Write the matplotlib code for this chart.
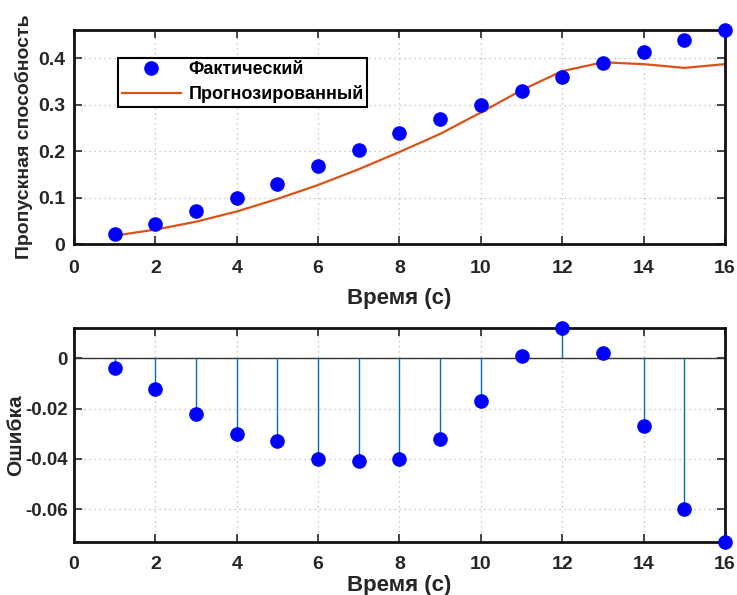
import matplotlib
matplotlib.use("Agg")
import matplotlib.pyplot as plt
import numpy as np

plt.rcParams['font.family'] = ['Liberation Sans', 'DejaVu Sans']
plt.rcParams['font.weight'] = 'bold'

time_s = [1, 2, 3, 4, 5, 6, 7, 8, 9, 10, 11, 12, 13, 14, 15, 16]
actual = [0.022, 0.043, 0.070, 0.100, 0.130, 0.167, 0.202, 0.238, 0.269, 0.300,
          0.330, 0.360, 0.389, 0.414, 0.439, 0.460]
predicted = [0.018, 0.031, 0.048, 0.070, 0.097, 0.127, 0.161, 0.198, 0.237, 0.283,
             0.331, 0.372, 0.391, 0.387, 0.379, 0.387]
error = [p - a for p, a in zip(predicted, actual)]

xticks = [0, 2, 4, 6, 8, 10, 12, 14, 16]
yticks_top = [0, 0.1, 0.2, 0.3, 0.4]
ytick_labels_top = ['0', '0.1', '0.2', '0.3', '0.4']
yticks_bot = [-0.06, -0.04, -0.02, 0]
ytick_labels_bot = ['-0.06', '-0.04', '-0.02', '0']

legend_labels = ['Фактический', 'Прогнозированный']
xlabel = 'Время (с)'
ylabel_top = 'Пропускная способность'
ylabel_bot = 'Ошибка'

TXT = '#262626'
fig = plt.figure(figsize=(7.37, 5.95), dpi=100)
ax1 = fig.add_axes([0.1004, 0.5899, 0.8833, 0.3597])
ax2 = fig.add_axes([0.1004, 0.0896, 0.8833, 0.3587])

def style(ax, xpad, ypad, ysize):
    for s in ax.spines.values():
        s.set_linewidth(2.0)
        s.set_color('#111111')
    ax.tick_params(direction='in', length=5.5, width=1.2, top=True, right=True,
                   colors=TXT)
    ax.tick_params(axis='x', pad=xpad, labelsize=14)
    ax.tick_params(axis='y', pad=ypad, labelsize=ysize)
    for lab in ax.get_xticklabels() + ax.get_yticklabels():
        lab.set_fontweight('bold')
    ax.grid(True, color='#b8b8b8', linestyle=(0, (1, 3)), linewidth=0.9)
    ax.set_axisbelow(True)

# top
ax1.plot(time_s, actual, 'o', color='#0000ff', markersize=9.5, clip_on=False,
         zorder=3, label=legend_labels[0])
ax1.plot(time_s, predicted, '-', color='#D95319', linewidth=1.6, zorder=2,
         label=legend_labels[1])
ax1.set_xlim(0, 16)
ax1.set_ylim(0, 0.4605)
ax1.set_xticks(xticks)
ax1.set_xticklabels([str(t) for t in xticks])
ax1.set_yticks(yticks_top)
ax1.set_yticklabels(ytick_labels_top)
style(ax1, 11.5, 6.5, 14)
ax1.set_xlabel(xlabel, fontsize=16, fontweight='bold', color=TXT)
ax1.set_ylabel(ylabel_top, fontsize=14, fontweight='bold', color=TXT)
ax1.xaxis.set_label_coords(0.5, -0.205)
ax1.yaxis.set_label_coords(-0.063, 0.5)
leg = ax1.legend(loc='upper left', bbox_to_anchor=(0.0676, 0.871), borderaxespad=0,
                 fancybox=False, framealpha=1, edgecolor='black', handlelength=3.3,
                 borderpad=0.2, labelspacing=0.4, handletextpad=0.4,
                 prop={'weight': 'bold', 'size': 13})
leg.get_frame().set_linewidth(1.5)
for t in leg.get_texts():
    t.set_color('black')

# bottom
ax2.axhline(0, color='#333333', linewidth=1.0, zorder=2)
markerline, stemlines, baseline = ax2.stem(time_s, error)
markerline.set_color('#0000ff')
markerline.set_markersize(9.5)
markerline.set_clip_on(False)
markerline.set_zorder(4)
stemlines.set_color('#0072BD')
stemlines.set_linewidth(1.0)
baseline.set_visible(False)
ax2.set_xlim(0, 16)
ax2.set_ylim(min(error), max(error))
ax2.set_xticks(xticks)
ax2.set_xticklabels([str(t) for t in xticks])
ax2.set_yticks(yticks_bot)
ax2.set_yticklabels(ytick_labels_bot)
style(ax2, 10, 4.5, 13.5)
ax2.set_xlabel(xlabel, fontsize=16, fontweight='bold', color=TXT)
ax2.set_ylabel(ylabel_bot, fontsize=15, fontweight='bold', color=TXT)
ax2.xaxis.set_label_coords(0.5, -0.157)
ax2.yaxis.set_label_coords(-0.0753, 0.5)

fig.savefig('out.png', dpi=100)
